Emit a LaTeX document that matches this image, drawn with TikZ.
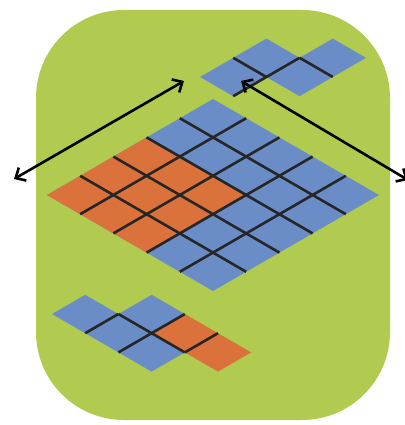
\documentclass[tikz,border=0pt]{standalone}
\usepackage{xcolor}
\usepackage{tikz}
\usetikzlibrary{arrows.meta}
\definecolor{bggreen}{RGB}{176,203,80}
\definecolor{tileblue}{RGB}{106,141,200}
\definecolor{tileorange}{RGB}{219,114,59}

\tikzset{
  gridline/.style={line width=2.6pt, draw=black!85},
  linkarrow/.style={line width=2.6pt, {Straight Barb[length=8pt,width=15pt]}-{Straight Barb[length=8pt,width=15pt]}},
  iso/.style={x={(33.2pt,19.2pt)}, y={(33.2pt,-19.2pt)}}
}

\begin{document}
\begin{tikzpicture}[x=1pt, y=-1pt]
\useasboundingbox (0,0) rectangle (404,425);
% background
\fill[bggreen, rounded corners=88pt] (36,10) rectangle (390,420);
% large grid
\begin{scope}[shift={(47,195)}, iso]
\fill[tileblue] (0,0) -- (5,0) -- (5,5) -- (0,5) -- cycle;
\fill[tileorange] (0,0) -- (3,0) -- (3,3) -- (0,3) -- cycle;
\foreach \k in {1,...,4} {
  \draw[gridline] (\k,0) -- (\k,5);
  \draw[gridline] (0,\k) -- (5,\k);
}
\end{scope}
% top piece
\begin{scope}[shift={(200,77)}, iso]
\fill[tileblue] (0,0) -- (2,0) -- (2,1) -- (3,1) -- (3,2) -- (1,2) -- (1,1) -- (0,1) -- cycle;
\draw[gridline] (1,0) -- (1,1);
\draw[gridline] (0,1) -- (2,1);
\draw[gridline] (2,1) -- (2,2);
\end{scope}
% bottom piece
\begin{scope}[shift={(52,314)}, iso]
\fill[tileblue] (0,0) -- (1,0) -- (1,1) -- (2,1) -- (2,2) -- (1,2) -- (1,3) -- (0,3) -- cycle;
\fill[tileorange] (1,2) -- (2,2) -- (2,4) -- (1,4) -- cycle;
\draw[gridline] (0,1) -- (1,1);
\draw[gridline] (1,1) -- (1,3);
\draw[gridline] (0,2) -- (2,2);
\draw[gridline] (1,3) -- (2,3);
\end{scope}
% arrows
\coordinate (leftend) at (14,179);
\coordinate (leftup) at (184,81);
\coordinate (rightup) at (241,81);
\coordinate (rightend) at (408,180);
\draw[linkarrow] (leftend) -- (leftup);
\draw[linkarrow] (rightup) -- (rightend);
\end{tikzpicture}
\end{document}
